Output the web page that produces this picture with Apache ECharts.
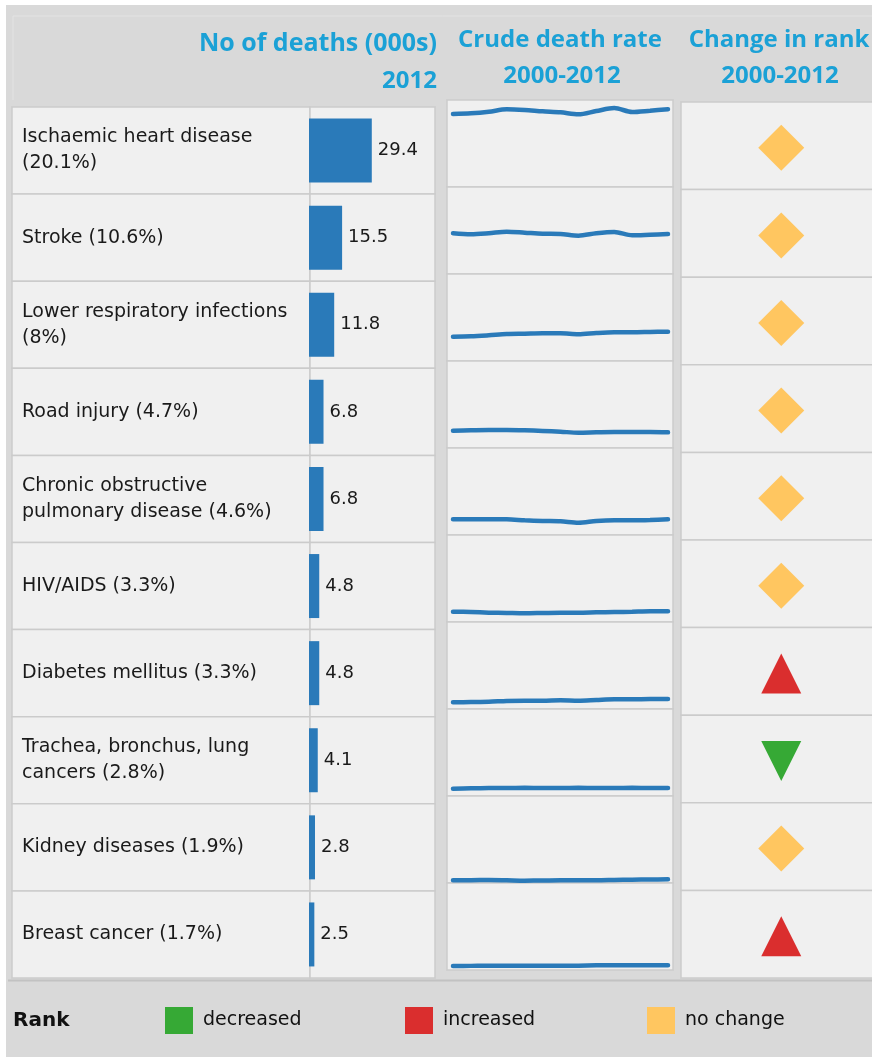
<!DOCTYPE html>
<html>
<head>
<meta charset="utf-8">
<title>Top 10 causes of death, 2012</title>
<script src="https://cdn.jsdelivr.net/npm/echarts@6/dist/echarts.min.js"></script>
<style>
  html, body { margin: 0; padding: 0; background: #fff; }
  #chart { width: 872px; height: 1057px; }
</style>
</head>
<body>
<div id="chart"></div>
<script>
// tick labels as shown in the first column
const causes = [
  'Ischaemic heart disease\n(20.1%)',
  'Stroke (10.6%)',
  'Lower respiratory infections\n(8%)',
  'Road injury (4.7%)',
  'Chronic obstructive\npulmonary disease (4.6%)',
  'HIV/AIDS (3.3%)',
  'Diabetes mellitus (3.3%)',
  'Trachea, bronchus, lung\ncancers (2.8%)',
  'Kidney diseases (1.9%)',
  'Breast cancer (1.7%)'
]
const deaths2012 = [29.4, 15.5, 11.8, 6.8, 6.8, 4.8, 4.8, 4.1, 2.8, 2.5]

const years = ['2000', '2001', '2002', '2003', '2004', '2005', '2006', '2007', '2008', '2009', '2010', '2011', '2012']
// crude death rate per cause, 2000-2012
const rateIHD      = [97.3, 98.3, 100.4, 103.6, 102.7, 100.9, 99.6, 96.9, 101.3, 105.3, 100, 101.7, 103.6]
const rateStroke   = [54.3, 52.9, 54.3, 56.4, 55.1, 53.7, 53.3, 51.1, 54.3, 56, 51.6, 52.4, 53.3]
const rateLRI      = [32.4, 32.9, 34.3, 36, 36.4, 36.9, 36.9, 35.6, 37.3, 38.3, 38.3, 38.7, 39.1]
const rateRoad     = [23.1, 23.6, 24, 24, 23.6, 22.7, 21.7, 20.4, 20.9, 21.3, 21.3, 21.3, 20.9]
const rateCOPD     = [20.9, 20.9, 20.9, 20.9, 19.6, 18.7, 18.3, 16.4, 18.7, 19.6, 19.6, 20, 20.9]
const rateHIV      = [13.7, 13.3, 12.4, 12, 11.6, 12, 12.4, 12.4, 12.9, 13.3, 13.7, 14.2, 14.2]
const rateDiabetes = [8.9, 9.3, 9.7, 10.7, 11.1, 11.1, 11.6, 11.1, 12, 12.9, 12.9, 13.3, 13.3]
const rateLung     = [9.7, 10.2, 10.7, 10.7, 10.9, 10.7, 10.7, 10.9, 10.7, 10.7, 10.9, 10.7, 10.7]
const rateKidney   = [3.6, 3.8, 4, 3.6, 3.1, 3.3, 3.6, 3.6, 3.6, 4, 4.4, 4.7, 4.9]
const rateBreast   = [5.3, 5.5, 5.8, 5.8, 5.8, 5.8, 5.8, 5.8, 6.2, 6.2, 6.2, 6.2, 6.2]
const crudeRates = [rateIHD, rateStroke, rateLRI, rateRoad, rateCOPD, rateHIV, rateDiabetes, rateLung, rateKidney, rateBreast]

const rankChange = ['no change', 'no change', 'no change', 'no change', 'no change', 'no change', 'increased', 'decreased', 'no change', 'increased']
const rankKinds = ['decreased', 'increased', 'no change']

const barBlue = '#2a7ab9'
const headBlue = '#1ba1d6'
const cellFill = '#f0f0f0'
const cellLine = '#cbcbcb'
const labelFont = 'DejaVu Sans'

const rankLook = {
  'decreased': { color: '#36a935', symbol: 'triangle', rotate: 180, size: [40, 40] },
  'increased': { color: '#da2e2e', symbol: 'triangle', rotate: 0, size: [40, 40] },
  'no change': { color: '#ffc660', symbol: 'diamond', rotate: 0, size: [46, 46] }
}

// row layout of the three table blocks
const leftTop = 107, leftRow = 87.1
const sparkTop = 100, sparkRow = 87
const rankTop = 102, rankRow = 87.6
const legendX = [165, 405, 647]

const cell = (x, y, w, h) => ({
  type: 'rect', z: 0,
  shape: { x, y, width: w, height: h },
  style: { fill: cellFill, stroke: cellLine, lineWidth: 1.5 }
})
const headText = (text, x, y, align, size) => ({
  type: 'text', z: 5, x, y,
  style: { text, align, verticalAlign: 'middle', fill: headBlue, font: 'bold ' + (size || 24) + 'px "Open Sans"' }
})

const graphic = [
  { type: 'rect', z: -1, shape: { x: 6, y: 5, width: 866, height: 1052 }, style: { fill: '#d9d9d9' } },
  { type: 'line', z: 0, shape: { x1: 13, y1: 16, x2: 872, y2: 16 }, style: { stroke: '#e3e3e3', lineWidth: 1 } },
  { type: 'line', z: 0, shape: { x1: 13, y1: 16, x2: 13, y2: 100 }, style: { stroke: '#e3e3e3', lineWidth: 1 } },
  { type: 'line', z: 0, shape: { x1: 8, y1: 980.5, x2: 872, y2: 980.5 }, style: { stroke: '#c2c2c2', lineWidth: 2 } },
  headText('No of deaths (000s)', 437, 44, 'right', 25),
  headText('2012', 437, 81, 'right'),
  headText('Crude death rate', 560, 40, 'center'),
  headText('2000-2012', 562, 76, 'center'),
  headText('Change in rank', 779, 40, 'center'),
  headText('2000-2012', 780, 76, 'center'),
  {
    type: 'text', z: 5, x: 13, y: 1021,
    style: { text: 'Rank', align: 'left', verticalAlign: 'middle', fill: '#111', font: 'bold 20px "DejaVu Sans"' }
  }
]
causes.forEach((c, i) => {
  graphic.push(cell(12, leftTop + i * leftRow, 298, leftRow))
  graphic.push(cell(310, leftTop + i * leftRow, 125, leftRow))
  graphic.push(cell(447, sparkTop + i * sparkRow, 226, sparkRow))
  graphic.push(cell(681, rankTop + i * rankRow, 194, rankRow))
})

const grid = [{ left: 309, top: leftTop, width: 126, height: leftRow * 10 }]
const xAxis = [{ type: 'value', gridIndex: 0, min: 0, max: 59, show: false }]
const yAxis = [{
  type: 'category', gridIndex: 0, data: causes, inverse: true,
  axisLine: { show: false }, axisTick: { show: false },
  axisLabel: {
    interval: 0, align: 'left', margin: 287,
    fontFamily: labelFont, fontSize: 19, lineHeight: 26, color: '#1a1a1a'
  }
}]
const series = [{
  type: 'bar', xAxisIndex: 0, yAxisIndex: 0, silent: true,
  data: deaths2012, barWidth: 64,
  itemStyle: { color: barBlue },
  label: { show: true, position: 'right', distance: 6, fontFamily: labelFont, fontSize: 18, color: '#1a1a1a' }
}]

// one small grid per sparkline
crudeRates.forEach((rates, i) => {
  const k = i + 1
  grid.push({ left: 453, width: 215, top: sparkTop + i * sparkRow, height: sparkRow })
  xAxis.push({ type: 'category', gridIndex: k, data: years, boundaryGap: false, show: false })
  yAxis.push({ type: 'value', gridIndex: k, min: 0, max: 116, show: false })
  series.push({
    type: 'line', xAxisIndex: k, yAxisIndex: k, silent: true,
    data: rates, showSymbol: false, smooth: 0.3,
    lineStyle: { color: barBlue, width: 4.5, cap: 'round' }
  })
})

// rank change symbols (the column runs off the right edge, so shift the centre)
grid.push({ left: 681, width: 191, top: rankTop + 2, height: rankRow * 10 })
xAxis.push({ type: 'value', gridIndex: 11, min: -1.05, max: 0.95, show: false })
yAxis.push({ type: 'category', gridIndex: 11, data: causes, inverse: true, show: false })
rankKinds.forEach(kind => {
  const look = rankLook[kind]
  series.push({
    type: 'scatter', name: kind, xAxisIndex: 11, yAxisIndex: 11, silent: true,
    symbol: look.symbol, symbolSize: look.size, symbolRotate: look.rotate,
    itemStyle: { color: look.color, opacity: 1 },
    data: rankChange.map((r, i) => (r === kind ? [0, i] : null)).filter(Boolean)
  })
})

const legend = rankKinds.map((kind, k) => ({
  data: [{ name: kind, icon: 'rect' }],
  left: legendX[k], top: 1007, padding: 0,
  itemWidth: 28, itemHeight: 27,
  selectedMode: false,
  textStyle: { fontFamily: labelFont, fontSize: 19, color: '#111', padding: [0, 0, 0, 5] }
}))

const myChart = echarts.init(document.getElementById('chart'))
myChart.setOption({
  animation: false,
  backgroundColor: '#fff',
  graphic,
  grid,
  xAxis,
  yAxis,
  legend,
  series
})
</script>
</body>
</html>
